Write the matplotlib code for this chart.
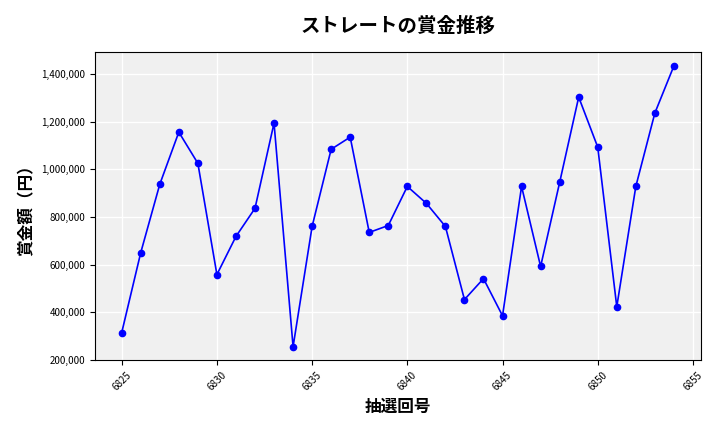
import matplotlib
matplotlib.use('Agg')
import matplotlib.pyplot as plt
from matplotlib.ticker import FuncFormatter

plt.rcParams['font.family'] = ['Noto Sans CJK JP', 'DejaVu Sans']

draws = list(range(6825, 6855))
prizes = [314000, 650000, 937000, 1156000, 1025000, 558000, 718000, 836000, 1194000, 255000,
          760000, 1084000, 1135000, 735000, 764000, 928000, 857000, 760000, 453000, 541000,
          385000, 928000, 592000, 945000, 1303000, 1093000, 423000, 928000, 1236000, 1434000]

fig = plt.figure(figsize=(7.2, 4.32), dpi=100)
ax = fig.add_axes([0.132, 0.167, 0.841, 0.713])
ax.set_facecolor('#f0f0f0')
ax.grid(True, color='white', linewidth=1)
ax.set_axisbelow(True)
ax.plot(draws, prizes, color='blue', marker='o', markersize=4.5, linewidth=1.2)
ax.set_xlim(6823.6, 6855.4)
ax.set_ylim(200000, 1493000)
ax.set_xticks(range(6825, 6856, 5))
ax.yaxis.set_major_formatter(FuncFormatter(lambda v, p: f'{int(v):,}'))
ax.tick_params(axis='x', labelrotation=45, labelsize=7)
ax.tick_params(axis='y', labelsize=7)
ax.set_title('ストレートの賞金推移', fontsize=14, fontweight='bold', pad=14)
ax.set_xlabel('抽選回号', fontsize=12, fontweight='bold')
ax.set_ylabel('賞金額（円）', fontsize=12, fontweight='bold')
fig.savefig('out.png')
